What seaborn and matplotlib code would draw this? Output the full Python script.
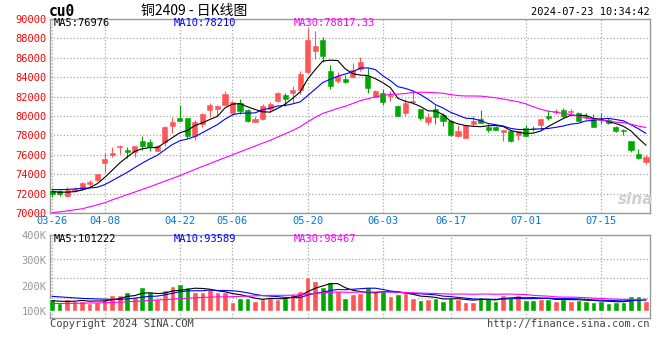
import numpy as np
import matplotlib
matplotlib.use('Agg')
import matplotlib.pyplot as plt
import seaborn as sns

# -- Data (cu2409 daily, 2024-03-26 .. 2024-07-23) --
tick_idx = [0, 7, 17, 24, 34, 44, 53, 63, 73]
tick_lab = ['03-26', '04-08', '04-22', '05-06', '05-20', '06-03', '06-17', '07-01', '07-15']

open_ = [72300, 72240, 71790, 72300, 72480, 72990, 73440, 75160, 75980, 76770,
         76530, 76260, 77420, 77320, 76430, 77290, 78940, 79800, 79760, 77970,
         79180, 80650, 80720, 81170, 80280, 81310, 80620, 79420, 79690, 80720,
         81510, 82170, 82370, 82720, 84500, 86740, 87840, 84610, 83640, 83820,
         83990, 84850, 84160, 81990, 82370, 82030, 81070, 80310, 81480, 80720,
         79420, 80720, 80100, 79520, 77970, 77730, 79180, 79660, 78830, 78830,
         78320, 78490, 78080, 78730, 78800, 79070, 80040, 80410, 80650, 80410,
         80280, 80040, 79760, 79620, 79620, 78830, 78520, 77390, 76080, 75290]
high = [72580, 72410, 72650, 72650, 73160, 73400, 74020, 76150, 76840, 77050,
        76840, 76870, 77970, 77630, 77010, 78940, 79930, 81140, 79760, 79590,
        80280, 81310, 81170, 82540, 81510, 81750, 80720, 80040, 81240, 81480,
        82440, 82370, 83130, 84610, 89040, 88800, 88180, 85290, 84500, 84260,
        85430, 86050, 84950, 82680, 82780, 82610, 81170, 81750, 82440, 80720,
        80280, 81140, 80280, 79590, 79070, 79070, 80040, 80620, 79180, 79010,
        78590, 78560, 78490, 79070, 79010, 79690, 80650, 80720, 80830, 80720,
        80380, 80310, 80210, 80310, 79760, 78940, 78660, 77390, 76600, 75980]
low = [71620, 71790, 71620, 72130, 72410, 72650, 73340, 74260, 75810, 76080,
       75670, 75810, 76530, 76430, 76360, 76870, 78210, 79450, 77730, 77530,
       78830, 79860, 80040, 81070, 80140, 80210, 79350, 79350, 79590, 80380,
       81410, 81070, 81310, 82270, 84400, 85880, 85530, 82780, 83370, 83370,
       83880, 84670, 82370, 81930, 81170, 81580, 80040, 80040, 81240, 79590,
       79110, 79180, 78970, 77970, 77870, 77730, 79010, 79250, 78390, 78560,
       77460, 77360, 77560, 77910, 78490, 78590, 79590, 80210, 79760, 80210,
       79450, 79690, 78830, 79180, 79180, 78320, 78080, 76260, 75570, 75050]
close = [71960, 71960, 72350, 72480, 73100, 73160, 73990, 75570, 76190, 76870,
         76260, 76870, 76940, 76770, 76870, 78830, 79420, 79450, 77970, 79420,
         80210, 81170, 81070, 82270, 81410, 80480, 79520, 79690, 81070, 81240,
         82370, 81750, 82680, 84330, 87840, 87250, 86220, 83130, 84160, 83540,
         84740, 85530, 82890, 82540, 81480, 82170, 80040, 81340, 81550, 79800,
         79930, 79930, 79520, 78080, 78490, 79070, 79520, 79310, 78590, 78590,
         78590, 77460, 78420, 77970, 78730, 79690, 79800, 80480, 79970, 80480,
         79520, 79860, 78900, 79560, 79280, 78490, 78460, 76530, 75670, 75740]

ma5 = [72200, 72150, 72150, 72200, 72370, 72610, 73016, 73660, 74402, 75156,
       75776, 76352, 76626, 76742, 76742, 77256, 77766, 78268, 78508, 79018,
       79294, 79644, 79968, 80828, 81226, 81280, 80950, 80674, 80434, 80400,
       80778, 81224, 81822, 82474, 83794, 84770, 85664, 85754, 85720, 84860,
       84358, 84220, 84172, 83848, 83436, 82922, 81824, 81514, 81316, 80980,
       80532, 80510, 80146, 79452, 79190, 79018, 78936, 78894, 78996, 79016,
       78920, 78508, 78330, 78206, 78234, 78454, 78922, 79334, 79734, 80084,
       80050, 80062, 79746, 79664, 79424, 79218, 78938, 78464, 77686, 76978]
ma10 = [72410, 72410, 72430, 72480, 72545, 72580, 72650, 72920, 73335, 73763,
        74193, 74684, 75143, 75572, 75949, 76516, 77059, 77447, 77625, 77880,
        78275, 78705, 79118, 79668, 80122, 80287, 80297, 80321, 80631, 80813,
        81029, 81087, 81248, 81454, 82097, 82774, 83444, 83788, 84097, 84327,
        84564, 84942, 84963, 84784, 84148, 83640, 83022, 82843, 82582, 82208,
        81727, 81167, 80830, 80384, 80085, 79775, 79723, 79520, 79224, 79103,
        78969, 78722, 78612, 78601, 78625, 78687, 78715, 78832, 78970, 79159,
        79252, 79492, 79540, 79699, 79754, 79634, 79500, 79105, 78675, 78201]
ma30 = [70020, 70120, 70220, 70330, 70430, 70640, 70840, 71050, 71350, 71620,
        71890, 72160, 72430, 72700, 72990, 73280, 73570, 73850, 74170, 74490,
        74800, 75100, 75400, 75700, 76000, 76300, 76600, 76900, 77200, 77485,
        77832, 78159, 78503, 78898, 79389, 79859, 80267, 80519, 80784, 81007,
        81289, 81578, 81776, 81969, 82122, 82234, 82254, 82317, 82437, 82449,
        82440, 82399, 82347, 82207, 82110, 82063, 82063, 82050, 81968, 81879,
        81753, 81610, 81468, 81256, 80953, 80701, 80487, 80398, 80259, 80157,
        79983, 79794, 79661, 79561, 79488, 79365, 79313, 79152, 78956, 78821]

# volume bar tops, in K (bars stand on the 100K line as in the source)
volume = [150, 134, 150, 141, 141, 134, 138, 150, 165, 165,
          175, 156, 194, 175, 150, 184, 198, 206, 194, 175,
          175, 186, 175, 175, 138, 154, 154, 141, 150, 156,
          150, 154, 169, 179, 235, 219, 196, 216, 181, 154,
          169, 171, 194, 179, 179, 160, 169, 171, 154, 144,
          150, 154, 141, 154, 150, 138, 138, 156, 153, 140,
          163, 153, 163, 146, 146, 150, 150, 141, 150, 141,
          146, 141, 138, 141, 134, 138, 138, 160, 160, 141]
vol_ma5 = [142, 140, 139, 140, 143, 140, 141, 141, 146, 150,
           159, 162, 171, 173, 170, 172, 180, 183, 186, 191,
           190, 187, 181, 177, 170, 166, 159, 152, 147, 151,
           150, 150, 156, 162, 177, 191, 200, 209, 209, 193,
           183, 178, 174, 173, 178, 177, 176, 172, 167, 160,
           158, 155, 149, 149, 150, 147, 144, 147, 147, 145,
           150, 153, 154, 153, 154, 152, 151, 147, 147, 146,
           146, 144, 143, 141, 140, 138, 138, 142, 146, 147]
vol_ma10 = [159, 157, 155, 153, 151, 150, 149, 148, 147, 147,
            149, 152, 156, 159, 160, 165, 171, 177, 180, 181,
            181, 184, 182, 182, 181, 178, 173, 167, 162, 160,
            158, 155, 154, 154, 164, 171, 175, 182, 186, 185,
            187, 189, 191, 191, 186, 180, 177, 173, 170, 169,
            167, 165, 160, 158, 155, 152, 149, 148, 148, 147,
            149, 149, 151, 150, 150, 151, 152, 150, 150, 150,
            149, 147, 145, 144, 143, 142, 141, 143, 144, 144]
vol_ma30 = [131, 131, 131, 132, 132, 133, 133, 134, 135, 136,
            138, 139, 141, 143, 145, 146, 148, 150, 152, 153,
            155, 156, 157, 157, 158, 159, 160, 161, 162, 163,
            163, 163, 164, 165, 168, 171, 173, 175, 176, 175,
            175, 176, 176, 176, 177, 176, 175, 174, 173, 172,
            171, 170, 169, 168, 168, 168, 167, 168, 168, 167,
            168, 168, 167, 166, 163, 161, 160, 157, 156, 156,
            155, 154, 152, 151, 149, 148, 147, 147, 147, 147]

# -- Style --
RED = '#ff5555'
GREEN = '#00a800'
sns.set_style('white')
plt.rcParams['font.family'] = ['DejaVu Sans Mono', 'Noto Sans CJK SC']

fig = plt.figure(figsize=(6.6, 3.6), dpi=100)
W, H = 660, 360
ax = fig.add_axes([50 / W, 1 - 213 / H, 600 / W, 194 / H])
axv = fig.add_axes([50 / W, 1 - 318 / H, 600 / W, 83 / H])

x = np.arange(len(close))
o = np.array(open_)
c = np.array(close)
cols = [RED if cc >= oo else GREEN for oo, cc in zip(o, c)]

# -- Candles --
ax.vlines(x, low, high, colors=cols, lw=0.8, zorder=3)
ax.bar(x, np.maximum(np.abs(c - o), 30), bottom=np.minimum(o, c), width=0.68,
       color=cols, edgecolor=cols, linewidth=0.4, zorder=3)
sns.lineplot(x=x, y=ma5, ax=ax, color='black', lw=0.8, zorder=4)
sns.lineplot(x=x, y=ma10, ax=ax, color='#0000ff', lw=0.8, zorder=4)
sns.lineplot(x=x, y=ma30, ax=ax, color='#ff00ff', lw=0.8, zorder=4)

ax.set_xlim(-0.27, 79.53)
ax.set_ylim(70000, 90000)
ax.set_yticks(range(70000, 90001, 2000))
ax.set_yticklabels([str(v) for v in range(70000, 90001, 2000)], color='#ff0000', fontsize=7.5)
ax.set_xticks(tick_idx)
ax.set_xticklabels(tick_lab, color='#0078d7', fontsize=7.5)
ax.tick_params(length=0, pad=2.5)
ax.grid(True, ls=':', color='#a8a8a8', lw=0.9)
ax.set_xlabel('')
ax.set_ylabel('')

# -- Volume --
vol = np.array(volume)
axv.bar(x, vol - 100, bottom=100, width=0.75, color=cols, zorder=3)
sns.lineplot(x=x, y=vol_ma5, ax=axv, color='black', lw=0.8, zorder=4)
sns.lineplot(x=x, y=vol_ma10, ax=axv, color='#0000ff', lw=0.8, zorder=4)
sns.lineplot(x=x, y=vol_ma30, ax=axv, color='#ff00ff', lw=0.8, zorder=4)
axv.set_xlim(-0.27, 79.53)
vlo, vhi = 74, 385
axv.set_ylim(vlo, vhi)
axv.set_yticks([100, 200, 300, 400])
axv.set_yticklabels(['100K', '200K', '300K', '400K'], color='#999999', fontsize=7.5)
axv.set_yticks(np.linspace(vlo, vhi, 5)[1:-1], minor=True)
axv.set_xticks(tick_idx)
axv.set_xticklabels([])
axv.tick_params(which='both', length=0, pad=2.5)
axv.grid(True, which='major', axis='x', ls=':', color='#a8a8a8', lw=0.9)
axv.grid(True, which='minor', axis='y', ls=':', color='#a8a8a8', lw=0.9)
axv.set_xlabel('')
axv.set_ylabel('')

for a in (ax, axv):
    for s in a.spines.values():
        s.set_color('#999999')
        s.set_linewidth(1.0)
    a.set_axisbelow(True)

# -- Texts --
def px(xp, yp, s, **kw):
    fig.text(xp / W, 1 - yp / H, s, va='center', **kw)

px(49, 11, 'cu0', fontsize=10.5, fontweight='bold', color='black')
px(194, 11, '铜2409 - 日K线图', fontsize=10, ha='center', color='black',
   family=['Noto Sans CJK SC', 'DejaVu Sans'])
px(650, 12, '2024-07-23 10:34:42', fontsize=7.5, ha='right', color='black')
px(54, 23, 'MA5:76976', fontsize=7.5, color='black')
px(174, 23, 'MA10:78210', fontsize=7.5, color='#0000ff')
px(294, 23, 'MA30:78817.33', fontsize=7.5, color='#ff00ff')
px(54, 239, 'MA5:101222', fontsize=7.5, color='black')
px(174, 239, 'MA10:93589', fontsize=7.5, color='#0000ff')
px(294, 239, 'MA30:98467', fontsize=7.5, color='#ff00ff')
px(50, 324, 'Copyright 2024 SINA.COM', fontsize=7.5, color='#444444')
px(650, 324, 'http://finance.sina.com.cn', fontsize=7.5, ha='right', color='#444444')
px(636, 199, 'sina', fontsize=11, ha='center', color='#cfcfcf',
   fontstyle='italic', fontweight='bold', family='DejaVu Sans')

fig.savefig('out.png', dpi=100)
